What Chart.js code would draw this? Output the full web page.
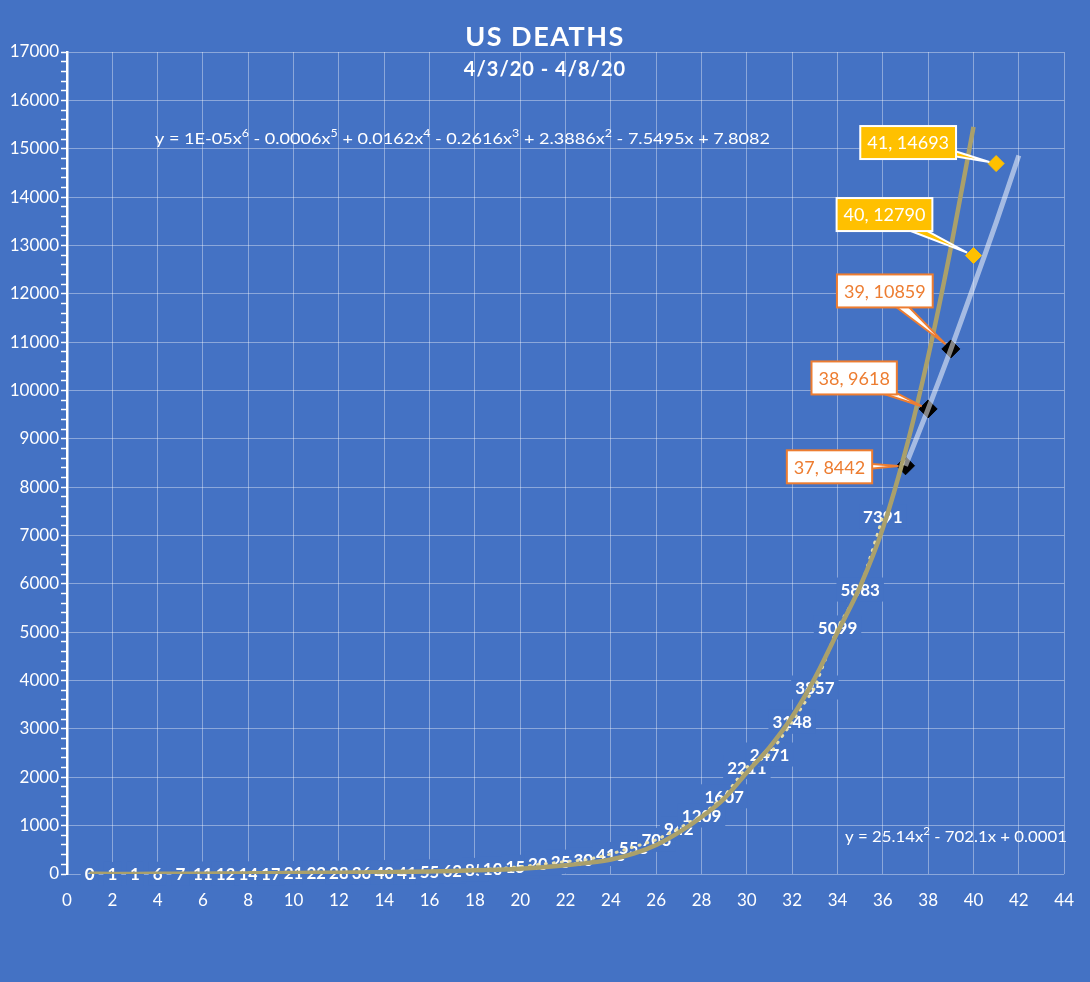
<!DOCTYPE html>
<html>
<head>
<meta charset="utf-8">
<script src="https://cdn.jsdelivr.net/npm/chart.js@4.4.1/dist/chart.umd.min.js"></script>
<style>
  html, body { margin: 0; padding: 0; background: #4472C4; }
  #wrap { width: 1090px; height: 982px; }
</style>
</head>
<body>
<div id="wrap"><canvas id="deaths-chart" width="1090" height="982"></canvas></div>
<script>
// US deaths, day index -> cumulative count
const days = [1, 2, 3, 4, 5, 6, 7, 8, 9, 10, 11, 12, 13, 14, 15, 16, 17, 18,
    19, 20, 21, 22, 23, 24, 25, 26, 27, 28, 29, 30, 31, 32, 33, 34, 35, 36];
const deaths = [0, 1, 1, 6, 7, 11, 12, 14, 17, 21, 22, 28, 36, 40, 41, 55, 62, 85,
    108, 150, 207, 255, 301, 413, 558, 706, 942, 1209, 1607, 2211, 2471, 3148, 3857, 5099, 5883, 7391];

// 6th order trend line
const polyX = [1, 2, 3, 4, 5, 6, 7, 8, 9, 10, 11, 12, 13, 14, 15, 16, 17, 18, 19, 20,
    21, 22, 23, 24, 25, 26, 27, 28, 29, 30, 31, 32, 33, 34, 35, 36, 37, 38, 39, 40];
const polyY = [3, 2, 2, 3, 5, 7, 10, 13, 16, 20, 24, 28, 33, 38, 44, 52, 62, 75, 90, 110,
    140, 180, 230, 300, 420, 600, 860, 1180, 1560, 2100, 2620, 3250, 4050, 5000, 5950, 7150,
    8750, 10700, 12950, 15450];

// quadratic trend through the latest days
const quadX = [37, 38, 39, 40, 41, 42];
const quadY = [8440, 9620, 10850, 12150, 13470, 14860];

// latest reported days and next two
const recentX = [37, 38, 39];
const recentY = [8442, 9618, 10859];
const projX = [40, 41];
const projY = [12790, 14693];

const xTicks = { min: 0, max: 44, step: 2 };
const yTicks = { min: 0, max: 17000, step: 1000, minor: 200 };

// equation pieces: [text, superscript]
const polyEq = [['y = 1E-05x', '6'], [' - 0.0006x', '5'], [' + 0.0162x', '4'], [' - 0.2616x', '3'],
    [' + 2.3886x', '2'], [' - 7.5495x + 7.8082', '']];
const quadEq = [['y = 25.14x', '2'], [' - 702.1x + 0.0001', '']];

const BG = '#4472C4';
const FONT = 'Lato, "Open Sans", sans-serif';
const GRID = 'rgba(255,255,255,0.38)';

// callout box offsets from their point (dx, dy of box centre)
const recentOffsets = [[-76, 1], [-74, -31], [-66, -58]];
const projOffsets = [[-89, -41], [-88, -21]];

const pts = (xs, ys) => xs.map((x, i) => ({ x, y: ys[i] }));

// white bold value labels with a blue box behind them
const valueLabels = {
    id: 'valueLabels',
    beforeDatasetsDraw(chart) {
        const { ctx, scales } = chart;
        ctx.save();
        ctx.font = 'bold 17px ' + FONT;
        ctx.textAlign = 'center';
        ctx.textBaseline = 'middle';
        days.forEach((d, i) => {
            const px = scales.x.getPixelForValue(d);
            const py = scales.y.getPixelForValue(deaths[i]);
            const txt = String(deaths[i]);
            const w = ctx.measureText(txt).width;
            ctx.fillStyle = BG;
            ctx.fillRect(px - w / 2 - 4, py - 12, w + 8, 24);
            ctx.fillStyle = '#fff';
            ctx.fillText(txt, px, py + 1);
        });
        ctx.restore();
    }
};

function drawCallout(ctx, px, py, off, txt, fill, stroke, color) {
    ctx.font = '18px ' + FONT;
    const w = ctx.measureText(txt).width + 14;
    const h = 33;
    const cx = px + off[0], cy = py + off[1];
    // wedge pointing at the marker, stopping at its edge
    const ang = Math.atan2(py - cy, px - cx);
    const tx = px - Math.cos(ang) * 7, ty = py - Math.sin(ang) * 7;
    const nx = -Math.sin(ang) * 6, ny = Math.cos(ang) * 6;
    ctx.beginPath();
    ctx.moveTo(cx + nx, cy + ny);
    ctx.lineTo(tx, ty);
    ctx.lineTo(cx - nx, cy - ny);
    ctx.closePath();
    ctx.fillStyle = fill;
    ctx.fill();
    ctx.lineWidth = 2;
    ctx.strokeStyle = stroke;
    ctx.stroke();
    ctx.fillRect(cx - w / 2, cy - h / 2, w, h);
    ctx.strokeRect(cx - w / 2, cy - h / 2, w, h);
    ctx.fillStyle = color;
    ctx.textAlign = 'center';
    ctx.textBaseline = 'middle';
    ctx.fillText(txt, cx, cy + 1);
}

const callouts = {
    id: 'callouts',
    afterDatasetsDraw(chart) {
        const { ctx, scales } = chart;
        ctx.save();
        recentX.forEach((d, i) => {
            const px = scales.x.getPixelForValue(d), py = scales.y.getPixelForValue(recentY[i]);
            drawCallout(ctx, px, py, recentOffsets[i], d + ', ' + recentY[i], '#fff', '#ED7D31', '#ED7D31');
        });
        projX.forEach((d, i) => {
            const px = scales.x.getPixelForValue(d), py = scales.y.getPixelForValue(projY[i]);
            drawCallout(ctx, px, py, projOffsets[i], d + ', ' + projY[i], '#FFC000', '#fff', '#fff');
        });
        ctx.restore();
    }
};

// draws an equation with raised exponents, squeezed to a given width
function drawEquation(ctx, parts, x, y, width) {
    const big = '16px ' + FONT, small = '11px ' + FONT;
    let total = 0;
    parts.forEach(([t, s]) => {
        ctx.font = big; total += ctx.measureText(t).width;
        ctx.font = small; total += ctx.measureText(s).width;
    });
    ctx.save();
    ctx.translate(x, y);
    ctx.scale(width / total, 1);
    let cx = 0;
    parts.forEach(([t, s]) => {
        ctx.font = big; ctx.fillText(t, cx, 0); cx += ctx.measureText(t).width;
        ctx.font = small; ctx.fillText(s, cx, -6); cx += ctx.measureText(s).width;
    });
    ctx.restore();
}

// titles and trend equations sit on top of the plot area
const texts = {
    id: 'texts',
    afterDraw(chart) {
        const { ctx, width } = chart;
        ctx.save();
        ctx.fillStyle = '#fff';
        ctx.textAlign = 'center';
        ctx.textBaseline = 'middle';
        ctx.letterSpacing = '1.5px';
        ctx.font = 'bold 27px ' + FONT;
        ctx.fillText('US DEATHS', width / 2, 37);
        ctx.letterSpacing = '1px';
        ctx.font = 'bold 20px ' + FONT;
        ctx.fillText('4/3/20 - 4/8/20', width / 2, 70);
        ctx.letterSpacing = '0px';
        ctx.textAlign = 'left';
        drawEquation(ctx, polyEq, 155, 139, 615);
        drawEquation(ctx, quadEq, 845, 837, 222);
        ctx.restore();
    }
};

const ctx = document.getElementById('deaths-chart').getContext('2d');
new Chart(ctx, {
    type: 'line',
    data: {
        datasets: [
            {
                label: 'Quadratic trend',
                data: pts(quadX, quadY),
                borderColor: 'rgba(255,255,255,0.52)',
                borderWidth: 5,
                pointRadius: 0,
                tension: 0.3,
                order: 1
            },
            {
                label: 'Poly trend',
                data: pts(polyX, polyY),
                borderColor: '#AAA06B',
                borderWidth: 4.5,
                pointRadius: 0,
                cubicInterpolationMode: 'monotone',
                order: 2
            },
            {
                label: 'Recent',
                data: pts(recentX, recentY),
                showLine: false,
                pointStyle: 'rectRot',
                pointRadius: 9,
                backgroundColor: '#000',
                borderColor: '#000',
                order: 3
            },
            {
                label: 'Next',
                data: pts(projX, projY),
                showLine: false,
                pointStyle: 'rectRot',
                pointRadius: 8,
                backgroundColor: '#FFC000',
                borderColor: '#FFC000',
                order: 3
            },
            {
                label: 'Deaths',
                data: pts(days, deaths),
                borderColor: 'rgba(240,228,170,0.95)',
                borderWidth: 3,
                borderDash: [1, 7],
                borderCapStyle: 'round',
                pointRadius: 0,
                order: 4
            }
        ]
    },
    options: {
        responsive: false,
        animation: false,
        devicePixelRatio: 1,
        layout: { padding: { top: 52, right: 24, left: 0, bottom: 0 } },
        plugins: {
            legend: { display: false },
            tooltip: { enabled: false },
            title: { display: false }
        },
        scales: {
            x: {
                type: 'linear',
                min: xTicks.min,
                max: xTicks.max,
                afterFit: s => { s.height = 108; },
                ticks: { stepSize: xTicks.step, color: '#fff', padding: 16, font: { family: FONT, size: 17 } },
                grid: { color: GRID, drawTicks: false },
                border: { display: false }
            },
            y: {
                min: yTicks.min,
                max: yTicks.max,
                afterFit: s => { s.width = 67; },
                ticks: {
                    stepSize: yTicks.minor,
                    autoSkip: false,
                    color: '#fff',
                    padding: 2,
                    font: { family: FONT, size: 17 },
                    callback: v => (v % yTicks.step === 0 ? v : '')
                },
                grid: {
                    color: c => (c.tick && c.tick.value % yTicks.step === 0 ? GRID : 'rgba(0,0,0,0)'),
                    tickColor: '#fff',
                    tickLength: 6,
                    tickWidth: 1.5
                },
                border: { color: '#fff', width: 2.5 }
            }
        }
    },
    plugins: [valueLabels, callouts, texts]
});
</script>
</body>
</html>
